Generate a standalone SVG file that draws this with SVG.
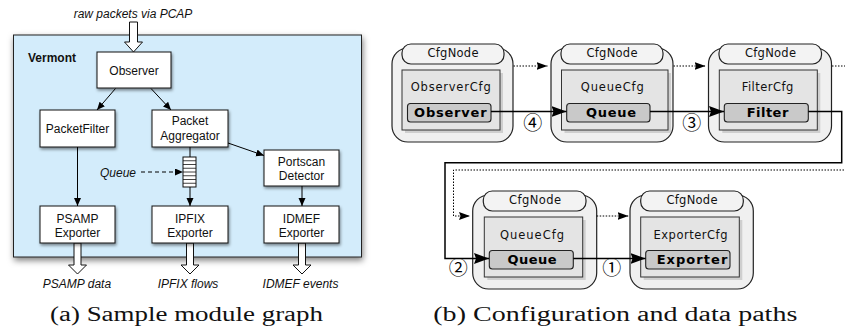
<svg xmlns="http://www.w3.org/2000/svg" width="845" height="329" viewBox="0 0 845 329">
  <defs>
    <filter id="shadow" x="-10%" y="-10%" width="130%" height="140%">
      <feDropShadow dx="1" dy="2" stdDeviation="1.5" flood-color="#000" flood-opacity="0.45"/>
    </filter>
    <filter id="shadowBig" x="-5%" y="-5%" width="110%" height="115%">
      <feDropShadow dx="1" dy="3" stdDeviation="3" flood-color="#000" flood-opacity="0.5"/>
    </filter>
    <marker id="arrSmall" markerUnits="userSpaceOnUse" markerWidth="9" markerHeight="8" refX="8" refY="3.5" orient="auto">
      <path d="M0,0 L8,3.5 L0,7 z" fill="#000"/>
    </marker>
    <marker id="arrBig" markerUnits="userSpaceOnUse" markerWidth="16" markerHeight="12" refX="15" refY="5.5" orient="auto">
      <path d="M0,0 L15,5.5 L0,11 L2,5.5 z" fill="#000"/>
    </marker>
    <marker id="arrDot" markerUnits="userSpaceOnUse" markerWidth="12" markerHeight="9" refX="11" refY="4" orient="auto">
      <path d="M0,0 L11,4 L0,8 L1.5,4 z" fill="#000"/>
    </marker>
  </defs>
  <style>
    .sans { font-family: "Liberation Sans", Arial, sans-serif; }
    .node { fill: #fff; stroke: #111; stroke-width: 1; filter: url(#shadow); }
    .lbl { font-family: "Liberation Sans", Arial, sans-serif; font-size: 12px; fill: #111; text-anchor: middle; }
    .ital { font-family: "Liberation Sans", Arial, sans-serif; font-size: 12px; font-style: italic; fill: #111; text-anchor: middle; }
    .edge { stroke: #000; stroke-width: 1; fill: none; }
    .hollow { fill: #fff; stroke: #111; stroke-width: 1; }
    .caption { font-family: "Liberation Serif", "Times New Roman", serif; font-size: 20px; fill: #111; text-anchor: middle; }
    .outer { fill: #f0f0f0; stroke: #222; stroke-width: 1.2; }
    .tab { fill: #f3f3f3; stroke: #222; stroke-width: 1.2; }
    .inner { fill: #e4e4e4; stroke: #333; stroke-width: 1; }
    .innerShadow { fill: #cfcfcf; }
    .mod { fill: #c9c9c9; stroke: #222; stroke-width: 1.1; }
    .dv { font-family: "DejaVu Sans", Verdana, sans-serif; font-size: 11.5px; fill: #111; text-anchor: middle; }
    .dvb { font-family: "DejaVu Sans", Verdana, sans-serif; font-size: 13px; font-weight: bold; fill: #000; text-anchor: middle; }
    .data { stroke: #000; stroke-width: 1.5; fill: none; }
    .cfg { stroke: #000; stroke-width: 1; stroke-dasharray: 1.5 1.5; fill: none; }
    .num { font-family: "Noto Sans CJK JP", "DejaVu Sans", sans-serif; font-size: 19px; fill: #000; text-anchor: middle; }
  </style>

  <!-- ===== (a) module graph ===== -->
  <text class="ital" x="133" y="18">raw packets via PCAP</text>
  <rect id="vermont" x="13.5" y="35" width="348" height="222" fill="#d3ecfb" stroke="#222" stroke-width="1" filter="url(#shadowBig)"/>
  <text class="sans" x="28" y="61.5" font-size="12" font-weight="bold" fill="#111">Vermont</text>

  <!-- input / output block arrows -->
  <g id="io-arrows">
    <path class="hollow" d="M129.5,22 H137.5 V42 H142.5 L133.5,52 L124.5,42 H129.5 z"/>
    <path class="hollow" d="M74,243 H81 V265 H86.5 L77.5,274 L68.5,265 H74 z"/>
    <path class="hollow" d="M186.5,243 H193.5 V265 H199 L190,274 L181,265 H186.5 z"/>
    <path class="hollow" d="M298.5,243 H305.5 V265 H311 L302,274 L293,265 H298.5 z"/>
  </g>

  <g id="observer">
    <rect class="node" x="97" y="52" width="74" height="36"/>
    <text class="lbl" x="134" y="75">Observer</text>
  </g>
  <g id="packetfilter">
    <rect class="node" x="40" y="110" width="75" height="37"/>
    <text class="lbl" x="77.5" y="133">PacketFilter</text>
  </g>
  <g id="aggregator">
    <rect class="node" x="152" y="110" width="76" height="37"/>
    <text class="lbl" x="190" y="125">Packet</text>
    <text class="lbl" x="190" y="139.5">Aggregator</text>
  </g>
  <g id="portscan">
    <rect class="node" x="264" y="150" width="75" height="36"/>
    <text class="lbl" x="301.5" y="165.5">Portscan</text>
    <text class="lbl" x="301.5" y="180">Detector</text>
  </g>
  <g id="psamp">
    <rect class="node" x="40" y="206" width="75" height="37"/>
    <text class="lbl" x="77.5" y="222.5">PSAMP</text>
    <text class="lbl" x="77.5" y="237">Exporter</text>
  </g>
  <g id="ipfix">
    <rect class="node" x="152" y="206" width="76" height="37"/>
    <text class="lbl" x="190" y="222.5">IPFIX</text>
    <text class="lbl" x="190" y="237">Exporter</text>
  </g>
  <g id="idmef">
    <rect class="node" x="264" y="206" width="75" height="37"/>
    <text class="lbl" x="301.5" y="222.5">IDMEF</text>
    <text class="lbl" x="301.5" y="237">Exporter</text>
  </g>
  <g id="queue">
    <rect x="183" y="157" width="13" height="30" fill="#fff" stroke="#111" stroke-width="1"/>
    <path d="M183,160.75 H196 M183,164.5 H196 M183,168.25 H196 M183,172 H196 M183,175.75 H196 M183,179.5 H196 M183,183.25 H196" stroke="#111" stroke-width="0.8"/>
  </g>

  <g id="module-edges">
    <path class="edge" d="M115.5,88.5 L97,110" marker-end="url(#arrSmall)"/>
    <path class="edge" d="M151,88.5 L171,110" marker-end="url(#arrSmall)"/>
    <path class="edge" d="M228,143 L264,155.5" marker-end="url(#arrSmall)"/>
    <path class="edge" d="M77.5,147 V206" marker-end="url(#arrSmall)"/>
    <path class="edge" d="M190,147 V157"/>
    <path class="edge" d="M190,187 V206" marker-end="url(#arrSmall)"/>
    <path class="edge" d="M302,186 V206" marker-end="url(#arrSmall)"/>
    <path class="edge" d="M141,172 H183" stroke-dasharray="4 3" marker-end="url(#arrSmall)"/>
  </g>
  <text class="ital" x="118" y="177">Queue</text>

  <text class="ital" x="77" y="288">PSAMP data</text>
  <text class="ital" x="188" y="288">IPFIX flows</text>
  <text class="ital" x="300.5" y="288">IDMEF events</text>

  <text class="caption" x="186.5" y="321" textLength="273" lengthAdjust="spacingAndGlyphs">(a) Sample module graph</text>

  <!-- ===== (b) configuration and data paths ===== -->
  <g id="cfg-observer">
    <rect class="outer" x="392" y="48" width="121" height="94" rx="16"/>
    <rect class="tab" x="402" y="44" width="102" height="20" rx="9"/>
    <text class="dv" x="453" y="57" textLength="51">CfgNode</text>
    <rect class="innerShadow" x="405" y="73" width="98" height="60"/>
    <rect class="inner" x="402" y="70" width="98" height="60"/>
    <text class="dv" x="450.7" y="91" textLength="80">ObserverCfg</text>
    <rect class="mod" x="407.5" y="103.5" width="83.5" height="18.5" rx="3"/>
    <text class="dvb" x="450.3" y="117" textLength="72.5">Observer</text>
  </g>
  <g id="cfg-queue1">
    <rect class="outer" x="551" y="48" width="122" height="94" rx="16"/>
    <rect class="tab" x="561" y="44" width="102" height="20" rx="9"/>
    <text class="dv" x="612" y="57" textLength="51">CfgNode</text>
    <rect class="innerShadow" x="564.5" y="73" width="106.5" height="60"/>
    <rect class="inner" x="561.5" y="70" width="106.5" height="60"/>
    <text class="dv" x="612.3" y="91" textLength="63">QueueCfg</text>
    <rect class="mod" x="566.7" y="103.5" width="83.3" height="18.5" rx="3"/>
    <text class="dvb" x="611" y="117" textLength="50">Queue</text>
  </g>
  <g id="cfg-filter">
    <rect class="outer" x="708.5" y="48" width="123" height="94" rx="16"/>
    <rect class="tab" x="719" y="44" width="102.5" height="20" rx="9"/>
    <text class="dv" x="770.5" y="57" textLength="51">CfgNode</text>
    <rect class="innerShadow" x="722.3" y="73" width="98" height="60"/>
    <rect class="inner" x="719.3" y="70" width="98" height="60"/>
    <text class="dv" x="767.5" y="91" textLength="51.7">FilterCfg</text>
    <rect class="mod" x="724.3" y="103.5" width="84" height="18.5" rx="3"/>
    <text class="dvb" x="767.5" y="117" textLength="41.6">Filter</text>
  </g>
  <g id="cfg-queue2">
    <rect class="outer" x="472.7" y="195" width="124" height="94" rx="16"/>
    <rect class="tab" x="483.3" y="191" width="102.7" height="20" rx="9"/>
    <text class="dv" x="535" y="204" textLength="52">CfgNode</text>
    <rect class="innerShadow" x="487.3" y="220" width="98.4" height="60"/>
    <rect class="inner" x="484.3" y="217" width="98.4" height="60"/>
    <text class="dv" x="532" y="238.5" textLength="64">QueueCfg</text>
    <rect class="mod" x="489.3" y="250.5" width="84" height="18.5" rx="3"/>
    <text class="dvb" x="532" y="264.3" textLength="49">Queue</text>
  </g>
  <g id="cfg-exporter">
    <rect class="outer" x="630" y="195" width="123.3" height="94" rx="16"/>
    <rect class="tab" x="640.7" y="191" width="102.6" height="20" rx="9"/>
    <text class="dv" x="692" y="204" textLength="51">CfgNode</text>
    <rect class="innerShadow" x="643.7" y="220" width="98.6" height="60"/>
    <rect class="inner" x="640.7" y="217" width="98.6" height="60"/>
    <text class="dv" x="690.5" y="238.5" textLength="74">ExporterCfg</text>
    <rect class="mod" x="645.7" y="250.5" width="84.3" height="18.5" rx="3"/>
    <text class="dvb" x="692" y="264.3" textLength="70.6">Exporter</text>
  </g>

  <g id="cfg-edges">
    <path class="cfg" d="M513.5,66 H547.5" marker-end="url(#arrDot)"/>
    <path class="cfg" d="M673.5,66 H705.5" marker-end="url(#arrDot)"/>
    <path class="cfg" d="M832,66 H852 V170 H453.5 V216 H470" marker-end="url(#arrDot)"/>
    <path class="cfg" d="M596.7,216 H628.5" marker-end="url(#arrDot)"/>
  </g>
  <g id="data-edges">
    <path class="data" d="M491,111.5 H566.5" marker-end="url(#arrBig)"/>
    <path class="data" d="M650,111.5 H724" marker-end="url(#arrBig)"/>
    <path class="data" d="M808.3,111.5 H841.7 V162.7 H445 V258.5 H489" marker-end="url(#arrBig)"/>
    <path class="data" d="M573.3,258.5 H645.5" marker-end="url(#arrBig)"/>
  </g>
  <text class="num" x="532.7" y="130">④</text>
  <text class="num" x="691.7" y="130">③</text>
  <text class="num" x="458.3" y="274.5">②</text>
  <text class="num" x="611.7" y="274.5">①</text>

  <text class="caption" x="615.3" y="321" textLength="364" lengthAdjust="spacingAndGlyphs">(b) Configuration and data paths</text>
</svg>
